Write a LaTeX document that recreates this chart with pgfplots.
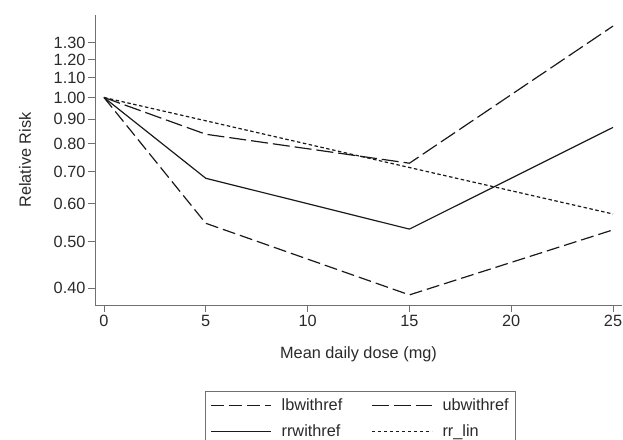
\documentclass[border=0pt]{standalone}
\usepackage{pgfplots}
\pgfplotsset{compat=1.18}
\usepackage{fontspec}
\setmainfont{Liberation Sans}
\definecolor{axgray}{HTML}{707070}
\definecolor{txt}{HTML}{2A2A2A}
\definecolor{ln}{HTML}{1A1A1A}
\begin{document}
\begin{tikzpicture}[x=1pt,y=1pt]
\begin{axis}[
  at={(95pt,134pt)}, anchor=south west,
  scale only axis, width=527pt, height=290pt,
  ymode=log,
  xmin=-0.44, xmax=25.44,
  ymin=0.3686, ymax=1.487,
  axis x line*=bottom, axis y line*=left,
  axis line style={axgray, line width=0.9pt, -},
  tick style={axgray, line width=0.9pt},
  tick align=outside,
  major tick length=7pt,
  yminorticks=false,
  xtick={0,5,10,15,20,25},
  ytick={0.4,0.5,0.6,0.7,0.8,0.9,1.0,1.1,1.2,1.3},
  yticklabels={0.40,0.50,0.60,0.70,0.80,0.90,1.00,1.10,1.20,1.30},
  ticklabel style={font=\fontsize{16.3}{17}\selectfont, text=txt},
  yticklabel style={xshift=1pt},
  /pgf/number format/assume math mode=true,
  xlabel={Mean daily dose (mg)},
  ylabel={Relative Risk},
  label style={font=\fontsize{16.3}{17}\selectfont, text=txt},
  xlabel style={at={(axis description cs:0.5,-0.169)}, anchor=center},
  ylabel style={at={(axis description cs:-0.1328,0.5)}, anchor=center},
  legend columns=2,
  legend style={at={(axis description cs:0.2087,-0.2966)}, anchor=north west,
    draw=axgray, line width=0.9pt, font=\fontsize{16.3}{17}\selectfont, text=txt,
    inner xsep=5pt, inner ysep=5pt, row sep=9pt,
    /tikz/every odd column/.append style={column sep=8pt},
    /tikz/every even column/.append style={column sep=27pt}},
  legend image code/.code={\draw[#1, line width=1.2pt] (0pt,0pt) -- (60pt,0pt);},
  legend cell align=left,
  clip=false,
]
\addplot[ln, line width=1.2pt, dash pattern=on 13pt off 5pt] coordinates {(0,1.0) (5,0.546) (15,0.387) (25,0.529)};
\addlegendentry{lbwithref}
\addplot[ln, line width=1.2pt, dash pattern=on 17pt off 5pt] coordinates {(0,1.0) (5,0.838) (15,0.729) (25,1.41)};
\addlegendentry{ubwithref}
\addplot[ln, line width=1.2pt] coordinates {(0,1.0) (5,0.678) (15,0.531) (25,0.866)};
\addlegendentry{rrwithref}
\addplot[ln, line width=1.2pt, dash pattern=on 3.5pt off 2.5pt] coordinates {(0,1.0) (5,0.894) (15,0.714) (25,0.571)};
\addlegendentry{rr\_lin}
\end{axis}
\pgfresetboundingbox
\path[use as bounding box] (0,0) rectangle (623pt,439pt);
\end{tikzpicture}
\end{document}
